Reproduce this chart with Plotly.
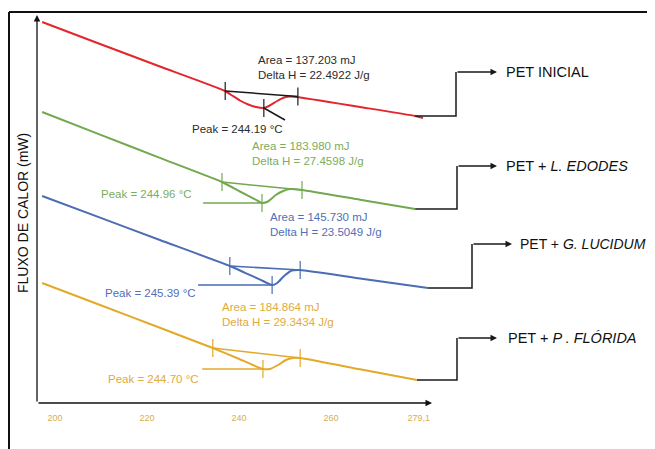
import plotly.graph_objects as go

# ---------------- data ----------------
series_names = ["PET INICIAL", "PET + <i>L. EDODES</i>", "PET + <i>G. LUCIDUM</i>", "PET + <i>P . FLÓRIDA</i>"]

pet_T = [197.2, 209.8, 222.8, 237.0, 238.5, 240.2, 242.0, 243.7, 245.4, 246.7, 248.3, 249.8, 251.1, 252.6, 266.3, 278.3, 280.0]
pet_Y = [38.1, 35.9, 33.65, 31.2, 30.75, 30.25, 29.85, 29.6, 29.5, 29.75, 30.2, 30.55, 30.65, 30.6, 29.6, 28.7, 28.5]

led_T = [197.2, 209.8, 222.8, 236.3, 240.2, 243.5, 245.0, 246.3, 248.0, 249.6, 251.1, 253.7, 266.3, 278.3]
led_Y = [29.1, 26.84, 24.51, 22.1, 21.15, 20.37, 20.0, 20.15, 20.8, 21.2, 21.4, 21.3, 20.33, 19.4]

glu_T = [197.2, 209.8, 222.8, 238.0, 241.3, 244.6, 247.2, 248.3, 249.8, 251.5, 253.3, 266.3, 281.1]
glu_Y = [20.7, 18.54, 16.3, 13.7, 13.02, 12.34, 11.8, 12.0, 12.7, 13.25, 13.3, 12.45, 11.5]

pfl_T = [197.2, 209.8, 222.8, 234.3, 239.8, 245.2, 246.7, 248.5, 250.2, 251.7, 253.3, 266.3, 278.7]
pfl_Y = [12.0, 9.8, 7.52, 5.5, 4.45, 3.4, 3.4, 3.8, 4.3, 4.5, 4.5, 3.37, 2.3]

onset_T = [237.0, 236.3, 238.0, 234.3]
onset_Y = [31.2, 22.1, 13.7, 5.5]
end_T = [252.8, 253.7, 253.3, 253.3]
end_Y = [30.65, 21.3, 13.3, 4.5]
peak_T = [245.4, 245.0, 247.2, 245.2]
peak_Y = [29.5, 20.0, 11.8, 3.4]
peakline_T = [250.0, 232.2, 231.1, 232.0]
peakline_Y = [28.3, 20.0, 11.8, 3.4]

area_mJ = ["137.203", "183.980", "145.730", "184.864"]
delta_H = ["22.4922", "27.4598", "23.5049", "29.3434"]
peak_label = ["244.19", "244.96", "245.39", "244.70"]

x_tickvals = [200, 220, 240, 260, 279.1]
x_ticktext = ["200", "220", "240", "260", "279,1"]

# ---------------- styling / layout helpers ----------------
PAGE_OFF = 8                      # browser body margin
W, H = 655 - PAGE_OFF, 449 - PAGE_OFF
ML, MR, MT = 37 - PAGE_OFF, 0, 12 - PAGE_OFF
MB = H - (403 - PAGE_OFF)
PX_PER_DEG = 4.6
PX_PER_UNIT = 10.0
PW = W - ML - MR
PH = H - MT - MB
x0 = 200 - (55 - 37) / PX_PER_DEG
x1 = x0 + PW / PX_PER_DEG
y0 = 0.0
y1 = PH / PX_PER_UNIT


def X(px):
    return 200 + (px - 55) / PX_PER_DEG


def Y(py):
    return (403 - py) / PX_PER_UNIT


FONT = "Liberation Sans, Arial, sans-serif"
curve_colors = ["#e2262c", "#72a84f", "#4a6db3", "#e2a92a"]
anal_colors = ["#1a1a1a", "#72a84f", "#4a6db3", "#e2a92a"]
text_colors = ["#2b2b2b", "#7cad5b", "#4f70b6", "#e0aa3c"]

curves = [(pet_T, pet_Y), (led_T, led_Y), (glu_T, glu_Y), (pfl_T, pfl_Y)]
conn_start_idx = [-2, -1, -1, -1]
conn_elbow_px = [456, 457, 472, 457]
conn_tip_px = [497, 497, 512, 497]
conn_label_px = [504, 504, 518, 506]
conn_level_py = [72, 166, 244, 338]
label_size = [14.5, 14.5, 14.0, 14.5]

area_pos = [(256, 60), (250, 146), (268, 217), (220, 307)]
peak_pos = [(190, 129), (99, 194), (103, 293), (106, 379)]

fig = go.Figure()
annotations = []
TICK_HALF = 0.9

for i, (T, Yv) in enumerate(curves):
    fig.add_trace(go.Scatter(x=T, y=Yv, mode="lines",
                             line=dict(color=curve_colors[i], width=2, shape="spline", smoothing=0.5),
                             hoverinfo="skip", showlegend=False))
    c = anal_colors[i]
    fig.add_trace(go.Scatter(x=[onset_T[i], end_T[i]], y=[onset_Y[i], end_Y[i]], mode="lines",
                             line=dict(color=c, width=1.5), hoverinfo="skip", showlegend=False))
    fig.add_trace(go.Scatter(x=[peakline_T[i], peak_T[i]], y=[peakline_Y[i], peak_Y[i]], mode="lines",
                             line=dict(color=c, width=1.5), hoverinfo="skip", showlegend=False))
    for tx, ty in [(onset_T[i], onset_Y[i]), (end_T[i], end_Y[i]), (peak_T[i], peak_Y[i])]:
        fig.add_trace(go.Scatter(x=[tx, tx], y=[ty - TICK_HALF, ty + TICK_HALF], mode="lines",
                                 line=dict(color=c, width=1.2), hoverinfo="skip", showlegend=False))
    sx, sy = T[conn_start_idx[i]], Yv[conn_start_idx[i]]
    ex = X(conn_elbow_px[i])
    ly = Y(conn_level_py[i])
    fig.add_trace(go.Scatter(x=[sx, ex, ex], y=[sy, sy, ly], mode="lines",
                             line=dict(color="#1a1a1a", width=1.5), hoverinfo="skip", showlegend=False))
    annotations.append(dict(x=X(conn_tip_px[i]), y=ly, ax=ex, ay=ly, axref="x", ayref="y",
                            xref="x", yref="y", text="", showarrow=True, arrowhead=2,
                            arrowsize=1, arrowwidth=1.3, arrowcolor="#1a1a1a", standoff=0))
    annotations.append(dict(x=X(conn_label_px[i]), y=ly, xref="x", yref="y", text=series_names[i],
                            showarrow=False, xanchor="left", yanchor="middle",
                            font=dict(family=FONT, size=label_size[i], color="#111")))
    apx, apy = area_pos[i]
    annotations.append(dict(x=X(apx), y=Y(apy), xref="x", yref="y",
                            text=f"Area = {area_mJ[i]} mJ", showarrow=False, xanchor="left",
                            yanchor="middle", font=dict(family=FONT, size=11.5, color=text_colors[i])))
    annotations.append(dict(x=X(apx), y=Y(apy + 15), xref="x", yref="y",
                            text=f"Delta H = {delta_H[i]} J/g", showarrow=False, xanchor="left",
                            yanchor="middle", font=dict(family=FONT, size=11.5, color=text_colors[i])))
    ppx, ppy = peak_pos[i]
    annotations.append(dict(x=X(ppx), y=Y(ppy), xref="x", yref="y",
                            text=f"Peak = {peak_label[i]} °C", showarrow=False, xanchor="left",
                            yanchor="middle", font=dict(family=FONT, size=11.5, color=text_colors[i])))

# axes arrows
annotations.append(dict(x=X(432), y=y0, ax=x0, ay=y0, axref="x", ayref="y", xref="x", yref="y",
                        text="", showarrow=True, arrowhead=2, arrowsize=1, arrowwidth=1.3,
                        arrowcolor="#111", standoff=0))
annotations.append(dict(x=x0, y=Y(15), ax=x0, ay=y0, axref="x", ayref="y", xref="x", yref="y",
                        text="", showarrow=True, arrowhead=2, arrowsize=1, arrowwidth=1.3,
                        arrowcolor="#111", standoff=0))
# axis titles
annotations.append(dict(x=X(216), y=Y(437), xref="x", yref="y", text="TEMPERATURA  (°C)",
                        showarrow=False, xanchor="center", yanchor="middle",
                        font=dict(family=FONT, size=14, color="#111")))
annotations.append(dict(x=(23 - 37) / PW, y=Y(213) / y1, xref="paper", yref="paper",
                        text="FLUXO DE CALOR (mW)", textangle=-90, showarrow=False,
                        xanchor="center", yanchor="middle",
                        font=dict(family=FONT, size=14, color="#111")))

# outer frame (top and left)
fx = (9 - 37) / PW
shapes = [
    dict(type="line", xref="paper", yref="paper", x0=fx, x1=1.05, y0=1.0, y1=1.0,
         line=dict(color="#111", width=2)),
    dict(type="line", xref="paper", yref="paper", x0=fx, x1=fx, y0=1.0, y1=-0.2,
         line=dict(color="#111", width=2)),
]

fig.update_layout(
    width=W, height=H,
    margin=dict(l=ML, r=MR, t=MT, b=MB, pad=0),
    paper_bgcolor="white", plot_bgcolor="white",
    annotations=annotations, shapes=shapes,
    xaxis=dict(range=[x0, x1], tickvals=x_tickvals, ticktext=x_ticktext,
               showgrid=False, zeroline=False, showline=False,
               ticks="outside", ticklen=6, tickcolor="rgba(0,0,0,0)",
               tickfont=dict(family=FONT, size=9, color="#d8ae4c")),
    yaxis=dict(range=[y0, y1], showgrid=False, zeroline=False, showline=False,
               showticklabels=False, ticks=""),
)

fig.write_html("out.html")
